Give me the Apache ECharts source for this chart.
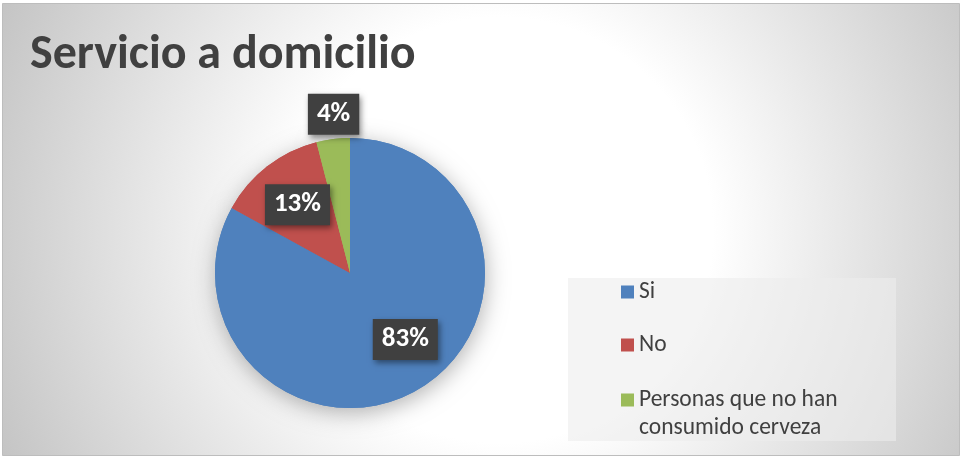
<!DOCTYPE html>
<html>
<head>
<meta charset="utf-8">
<script src="https://cdn.jsdelivr.net/npm/echarts@6/dist/echarts.min.js"></script>
<style>
html,body{margin:0;padding:0;background:#fff;}
#c{width:963px;height:459px;}
</style>
</head>
<body>
<div id="c"></div>
<script>
const titleText = 'Servicio a domicilio';
const categories = ['Si', 'No', 'Personas que no han consumido cerveza'];
const values = [83, 13, 4];
const colors = ['#4F81BD', '#C0504D', '#9BBB59'];

const FONT = 'Carlito, Lato, sans-serif';
const CENTER = [350, 273];
const R = 135;
// small nudges of the data labels (layout only)
const labelNudge = [[10, -10], [2, 2], [4, 3]];

const pieData = categories.map((n, i) => ({ name: n, value: values[i], itemStyle: { color: colors[i] } }));

const labelBox = {
  show: true,
  position: 'inside',
  formatter: '{d}%',
  color: '#fff',
  fontFamily: FONT,
  fontWeight: 'bold',
  fontSize: 27,
  lineHeight: 24,
  backgroundColor: '#404040',
  padding: [9, 9, 8, 9],
  shadowColor: 'rgba(0,0,0,0.45)',
  shadowBlur: 6,
  shadowOffsetX: 2,
  shadowOffsetY: 3
};

const innerLabelData = pieData.map((d, i) => ({
  name: d.name, value: d.value,
  label: { show: i < 2, offset: labelNudge[i] }
}));
const outerLabelData = pieData.map((d, i) => ({
  name: d.name, value: d.value,
  label: { show: i === 2, offset: labelNudge[i] }
}));

const legendTops = [278, 331, 358];
const legends = categories.map((n, i) => ({
  data: [n],
  // the wrapped entry keeps its first line level with the marker
  formatter: i === 2 ? '\n{name}' : '{name}',
  orient: 'vertical',
  left: 621,
  top: legendTops[i],
  padding: 0,
  itemWidth: 13,
  itemHeight: 13,
  itemGap: 6,
  icon: 'rect',
  selectedMode: false,
  textStyle: {
    color: '#404040',
    fontFamily: FONT,
    fontSize: 23.5,
    lineHeight: 28,
    width: 240,
    overflow: 'break'
  }
}));

const chart = echarts.init(document.getElementById('c'), null, { renderer: 'canvas' });
chart.setOption({
  animation: false,
  title: {
    text: titleText,
    left: 25,
    top: 27,
    textStyle: { color: '#404040', fontFamily: FONT, fontWeight: 'bold', fontSize: 48 }
  },
  graphic: [
    {
      type: 'rect', z: -10, silent: true,
      shape: { x: 2.5, y: 3.5, width: 957, height: 452 },
      style: {
        fill: {
          type: 'radial', x: 500, y: 230, r: 560, global: true,
          colorStops: [
            { offset: 0, color: '#ffffff' },
            { offset: 0.38, color: '#ffffff' },
            { offset: 1, color: '#c2c2c2' }
          ]
        },
        stroke: '#bdbdbd', lineWidth: 1
      }
    },
    {
      type: 'rect', z: -9, silent: true,
      shape: { x: 568, y: 278, width: 328, height: 163 },
      style: { fill: 'rgba(236,236,236,0.6)' }
    }
  ],
  legend: legends,
  series: [
    {
      type: 'pie', center: CENTER, radius: [0, R], silent: true, z: 1,
      data: pieData,
      label: { show: false }, labelLine: { show: false },
      itemStyle: { shadowBlur: 22, shadowColor: 'rgba(0,0,0,0.3)', shadowOffsetX: 1, shadowOffsetY: 5 },
      emphasis: { disabled: true }
    },
    {
      type: 'pie', center: CENTER, radius: [0, R], silent: true, z: 2,
      data: pieData,
      label: { show: false }, labelLine: { show: false },
      emphasis: { disabled: true }
    },
    {
      type: 'pie', center: CENTER, radius: [0, 172], silent: true, z: 3,
      data: innerLabelData,
      itemStyle: { color: 'rgba(0,0,0,0)' },
      label: labelBox, labelLine: { show: false },
      emphasis: { disabled: true }
    },
    {
      type: 'pie', center: CENTER, radius: [0, 320], silent: true, z: 3,
      data: outerLabelData,
      itemStyle: { color: 'rgba(0,0,0,0)' },
      label: labelBox, labelLine: { show: false },
      emphasis: { disabled: true }
    }
  ]
});
</script>
</body>
</html>
